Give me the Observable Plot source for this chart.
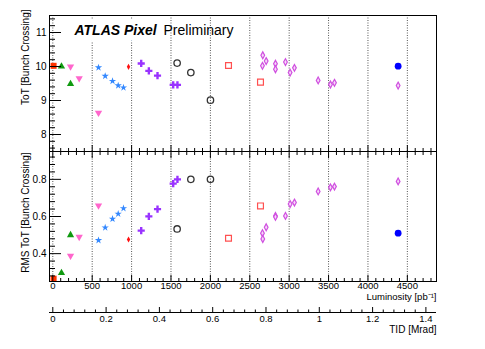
<!DOCTYPE html>
<html><head><meta charset="utf-8">
<script src="https://cdn.jsdelivr.net/npm/d3@7"></script>
<script src="https://cdn.jsdelivr.net/npm/@observablehq/plot@0.6"></script>
<style>
body{margin:0;background:#fff;}
#chart{position:relative;width:485px;height:349px;overflow:hidden;background:#fff;}
#chart svg{position:absolute;left:0;overflow:visible;}
</style></head><body><div id="chart"></div>
<script>
// ---- data (luminosity in pb^-1, mean ToT and RMS ToT in bunch crossings) ----
const redFilledLumi = [10];
const redFilledToT  = [10.02];
const redFilledRMS  = [0.265];

const greenLumi = [110, 225];
const greenToT  = [10.0, 9.49];
const greenRMS  = [0.296, 0.50];

const pinkLumi = [225, 335, 580];
const pinkToT  = [10.0, 9.65, 8.64];
const pinkRMS  = [0.388, 0.49, 0.659];

const blueStarLumi = [580, 665, 758, 830, 897];
const blueStarToT  = [9.97, 9.72, 9.57, 9.44, 9.38];
const blueStarRMS  = [0.472, 0.54, 0.587, 0.614, 0.644];

const redDiamLumi = [961];
const redDiamToT  = [9.99];
const redDiamRMS  = [0.476];

const purpleLumi = [1122, 1219, 1329, 1528, 1582];
const purpleToT  = [10.09, 9.87, 9.73, 9.46, 9.46];
const purpleRMS  = [0.524, 0.601, 0.64, 0.777, 0.80];

const blackLumi = [1578, 1752, 2001];
const blackToT  = [10.10, 9.82, 9.01];
const blackRMS  = [0.533, 0.80, 0.80];

const redOpenLumi = [2230, 2636];
const redOpenToT  = [10.03, 9.54];
const redOpenRMS  = [0.483, 0.657];

const magentaLumi = [2661, 2665, 2708, 2826, 2826, 2953, 3012, 3067, 3368, 3524, 3575, 4383];
const magentaToT  = [10.02, 10.33, 10.16, 10.08, 9.92, 10.13, 9.82, 9.96, 9.59, 9.47, 9.52, 9.44];
const magentaRMS  = [0.51, 0.479, 0.542, 0.603, 0.598, 0.603, 0.667, 0.675, 0.735, 0.757, 0.761, 0.789];

const blueDotLumi = [4383];
const blueDotToT  = [10.01];
const blueDotRMS  = [0.51];

// ---- ticks ----
const lumiTicks = [0, 500, 1000, 1500, 2000, 2500, 3000, 3500, 4000, 4500];
const lumiMinor = d3.range(0, 4900, 100).filter(v => v % 500 !== 0);
const totTicks = [8, 9, 10, 11];
const totMinor = d3.range(7.6, 11.5, 0.2).filter(v => Math.abs(v - Math.round(v)) > 0.01);
const rmsTicks = [0.4, 0.6, 0.8];
const rmsMinor = d3.range(0.28, 0.95, 0.04).filter(v => Math.abs(v * 5 - Math.round(v * 5)) > 0.01);
const tidTicks = [0, 0.2, 0.4, 0.6, 0.8, 1, 1.2, 1.4];
const tidMinor = d3.range(0.04, 1.44, 0.04).filter(v => Math.abs(v * 5 - Math.round(v * 5)) > 0.01);

// ---- custom marker shapes ----
const triangleDown = {draw(ctx, size) {
  const a = Math.sqrt(size * 4 / Math.sqrt(3)), h = a * Math.sqrt(3) / 2;
  ctx.moveTo(0, h * 2 / 3); ctx.lineTo(-a / 2, -h / 3); ctx.lineTo(a / 2, -h / 3); ctx.closePath();
}};
const triangleUp = {draw(ctx, size) {
  const a = Math.sqrt(size * 4 / Math.sqrt(3)), h = a * Math.sqrt(3) / 2;
  ctx.moveTo(0, -h * 2 / 3); ctx.lineTo(a / 2, h / 3); ctx.lineTo(-a / 2, h / 3); ctx.closePath();
}};
const thinDiamond = {draw(ctx, size) {
  const r = Math.sqrt(size / Math.PI), w = 0.6 * r, h = 1.1 * r;
  ctx.moveTo(0, -h); ctx.lineTo(w, 0); ctx.lineTo(0, h); ctx.lineTo(-w, 0); ctx.closePath();
}};

const groups = [
  {lumi: redFilledLumi, tot: redFilledToT, rms: redFilledRMS, style: {symbol: "square", r: 3.4, fill: "#ff3300", stroke: "none"}},
  {lumi: greenLumi, tot: greenToT, rms: greenRMS, style: {symbol: triangleUp, r: 2.7, fill: "#109a10", stroke: "none"}},
  {lumi: pinkLumi, tot: pinkToT, rms: pinkRMS, style: {symbol: triangleDown, r: 2.7, fill: "#ff66cc", stroke: "none"}},
  {lumi: blueStarLumi, tot: blueStarToT, rms: blueStarRMS, style: {symbol: "star", r: 2.3, fill: "#3388ff", stroke: "none"}},
  {lumi: redDiamLumi, tot: redDiamToT, rms: redDiamRMS, style: {symbol: thinDiamond, r: 2.8, fill: "#ff1010", stroke: "none"}},
  {lumi: purpleLumi, tot: purpleToT, rms: purpleRMS, style: {symbol: "cross", r: 3, fill: "#9933ff", stroke: "none"}},
  {lumi: blackLumi, tot: blackToT, rms: blackRMS, style: {symbol: "circle", r: 3.2, fill: "none", stroke: "#333", strokeWidth: 1.3}},
  {lumi: redOpenLumi, tot: redOpenToT, rms: redOpenRMS, style: {symbol: "square", r: 3.3, fill: "none", stroke: "#ff5050", strokeWidth: 1.2}},
  {lumi: magentaLumi, tot: magentaToT, rms: magentaRMS, style: {symbol: thinDiamond, r: 3.1, fill: "#f6d8f8", stroke: "#d050e0", strokeWidth: 1.2}},
  {lumi: blueDotLumi, tot: blueDotToT, rms: blueDotRMS, style: {symbol: "circle", r: 3.4, fill: "#0000ff", stroke: "none"}}
];

function dotsFor(key) {
  return groups.map(g => {
    const rows = g.lumi.map((l, i) => ({lumi: l, v: g[key][i]}));
    return Plot.dot(rows, {x: "lumi", y: "v", ...g.style});
  });
}

const FONT = "'Liberation Sans', Arial, Helvetica, sans-serif";
const W = 485, ML = 49, MR = 49;
const xDomain = [-42, 4870];
const styleBase = {fontFamily: FONT, fontSize: "10px", background: "none", overflow: "visible", color: "#000"};
const blank = () => "";
const grid = () => Plot.ruleX(lumiTicks, {stroke: "#555", strokeDasharray: "1,1.5", strokeWidth: 1});

// ---- top panel ----
const topPanel = Plot.plot({
  width: W, height: 151, marginTop: 15, marginBottom: 0, marginLeft: ML, marginRight: MR,
  x: {domain: xDomain}, y: {domain: [7.5, 11.5]},
  style: styleBase,
  marks: [
    grid(),
    Plot.text(["ATLAS Pixel"], {frameAnchor: "top-left", dx: 25, dy: 9.6, textAnchor: "start", fontSize: 14, fontWeight: "bold", fontStyle: "italic", stroke: "white", strokeWidth: 12, fill: "#000"}),
    Plot.text(["Preliminary"], {frameAnchor: "top-left", dx: 114, dy: 9.6, textAnchor: "start", fontSize: 14, fill: "#000"}),
    ...dotsFor("tot"),
    Plot.frame({stroke: "#000"}),
    Plot.axisY(totTicks, {anchor: "left", tickSize: -12, tickFormat: blank, label: null}),
    Plot.axisY(totMinor, {anchor: "left", tickSize: -6, tickFormat: blank, label: null}),
    Plot.axisY(totTicks, {anchor: "left", tickSize: 0, tickPadding: 3, tickFormat: d => String(d), label: null, fontSize: 10}),
    Plot.axisX(lumiTicks, {anchor: "bottom", tickSize: -6, tickFormat: blank, label: null}),
    Plot.axisX(lumiMinor, {anchor: "bottom", tickSize: -3, tickFormat: blank, label: null}),
    Plot.text(["ToT [Bunch Crossing]"], {frameAnchor: "top-left", rotate: -90, textAnchor: "end", dx: -28, dy: -6, fontSize: 10, fill: "#000"})
  ]
});
topPanel.style.top = "0px";

// ---- bottom panel ----
const bottomPanel = Plot.plot({
  width: W, height: 167, marginTop: 10, marginBottom: 27, marginLeft: ML, marginRight: MR,
  x: {domain: xDomain}, y: {domain: [0.25, 0.95]},
  style: styleBase,
  marks: [
    grid(),
    ...dotsFor("rms"),
    Plot.frame({stroke: "#000"}),
    Plot.axisY(rmsTicks, {anchor: "left", tickSize: -12, tickFormat: blank, label: null}),
    Plot.axisY(rmsMinor, {anchor: "left", tickSize: -6, tickFormat: blank, label: null}),
    Plot.axisY(rmsTicks, {anchor: "left", tickSize: 0, tickPadding: 3, tickFormat: d => String(d), label: null, fontSize: 10}),
    Plot.axisX(lumiTicks, {anchor: "top", tickSize: -6, tickFormat: blank, label: null}),
    Plot.axisX(lumiMinor, {anchor: "top", tickSize: -3, tickFormat: blank, label: null}),
    Plot.axisX(lumiTicks, {anchor: "bottom", tickSize: -6, tickFormat: blank, label: null}),
    Plot.axisX(lumiMinor, {anchor: "bottom", tickSize: -3, tickFormat: blank, label: null}),
    Plot.axisX(lumiTicks, {anchor: "bottom", tickSize: 0, tickPadding: 0.5, tickFormat: d => String(d), label: null, fontSize: 9.5}),
    Plot.text(["Luminosity [pb⁻¹]"], {frameAnchor: "bottom-right", textAnchor: "end", dy: 18, fontSize: 9.5, fill: "#000"}),
    Plot.text(["RMS ToT [Bunch Crossing]"], {frameAnchor: "top-left", rotate: -90, textAnchor: "end", dx: -28, dy: 1, fontSize: 10, fill: "#000"})
  ]
});
bottomPanel.style.top = "141px";

// ---- TID axis ----
const tidAxis = Plot.plot({
  width: W, height: 53, marginTop: 0, marginBottom: 37, marginLeft: ML, marginRight: MR,
  x: {domain: [-0.0124, 1.4398]}, y: {domain: [0, 1], axis: null},
  style: styleBase,
  marks: [
    Plot.ruleY([0], {stroke: "#000"}),
    Plot.axisX(tidTicks, {anchor: "bottom", tickSize: -5, tickFormat: blank, label: null}),
    Plot.axisX(tidMinor, {anchor: "bottom", tickSize: -2.5, tickFormat: blank, label: null}),
    Plot.axisX(tidTicks, {anchor: "bottom", tickSize: 0, tickPadding: 2.5, tickFormat: d => String(d), label: null, fontSize: 9.5}),
    Plot.text(["TID [Mrad]"], {frameAnchor: "bottom-right", textAnchor: "end", dy: 20.5, fontSize: 10, fill: "#000"})
  ]
});
tidAxis.style.top = "296px";

document.getElementById("chart").append(topPanel, bottomPanel, tidAxis);
</script>
</body></html>
